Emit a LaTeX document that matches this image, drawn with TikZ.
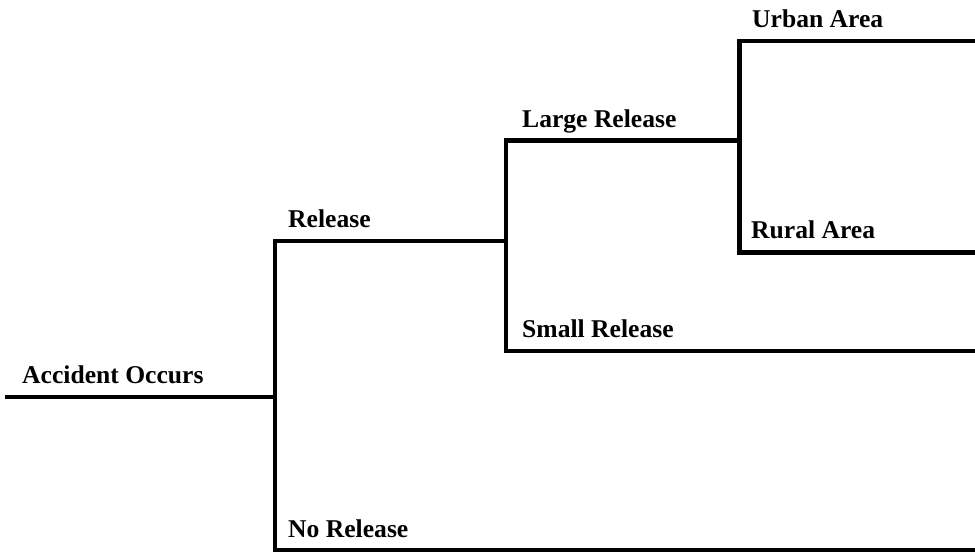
\documentclass[tikz,border=0pt]{standalone}
\usepackage{fontspec}
\setmainfont{Liberation Serif}
\begin{document}
\begin{tikzpicture}[x=1pt,y=-1pt,
  branch/.style={line width=4.5pt,line cap=rect,black},
  lbl/.style={anchor=base west,inner sep=0pt,font=\fontsize{25.6}{30}\selectfont\bfseries}]
\useasboundingbox (0,0) rectangle (975,552);
% junction points
\coordinate (s0) at (7,397);
\coordinate (j1) at (275,397);
\coordinate (j1t) at (275,241);
\coordinate (j1b) at (275,550);
\coordinate (j2) at (506,241);
\coordinate (j2t) at (506,140.5);
\coordinate (j2b) at (506,351);
\coordinate (j3) at (739.5,140.5);
\coordinate (j3t) at (739.5,41);
\coordinate (j3b) at (739.5,252.5);
\coordinate (eU) at (977,41);
\coordinate (eR) at (977,252.5);
\coordinate (eS) at (977,351);
\coordinate (eN) at (977,550);
% branches
\draw[branch] (s0) -- (j1);
\draw[branch] (j1t) -- (j1b);
\draw[branch] (j1t) -- (j2);
\draw[branch] (j1b) -- (eN);
\draw[branch] (j2t) -- (j2b);
\draw[branch] (j2t) -- (j3);
\draw[branch] (j2b) -- (eS);
\draw[branch] (j3t) -- (j3b);
\draw[branch] (j3t) -- (eU);
\draw[branch] (j3b) -- (eR);
% labels
\node[lbl] (lA) at (22,383) {Accident Occurs};
\node[lbl] (lR) at (288,227) {Release};
\node[lbl] (lN) at (288,537) {No Release};
\node[lbl] (lL) at (522,127) {Large Release};
\node[lbl] (lS) at (522,337) {Small Release};
\node[lbl] (lU) at (752,27) {Urban Area};
\node[lbl] (lRu) at (751,238) {Rural Area};
\end{tikzpicture}
\end{document}
